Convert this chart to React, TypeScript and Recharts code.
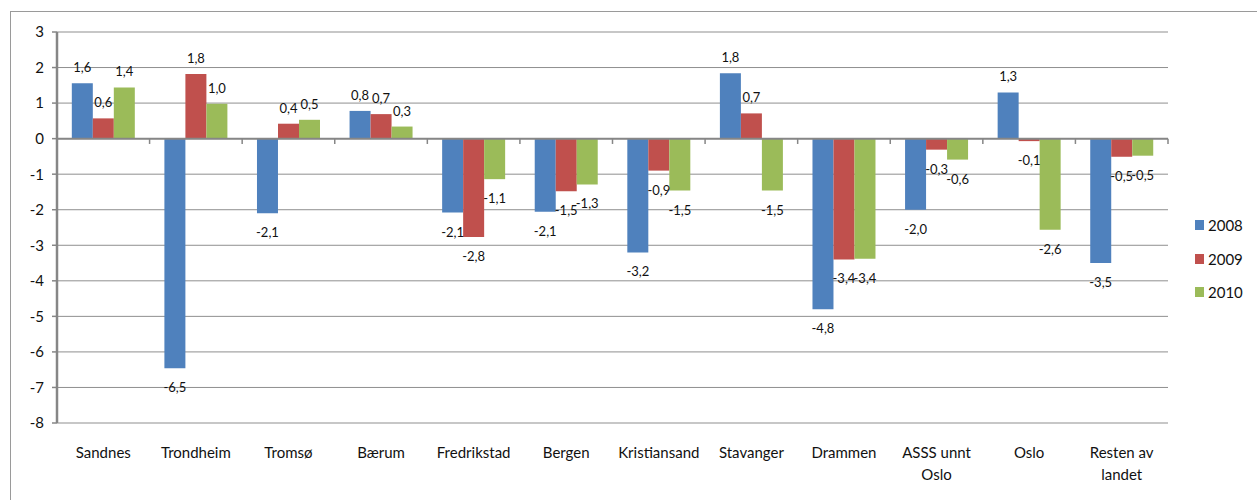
import React from 'react';
import { BarChart, Bar, XAxis, YAxis, CartesianGrid, ReferenceLine, LabelList } from 'recharts';

const categories = [
  'Sandnes',
  'Trondheim',
  'Tromsø',
  'Bærum',
  'Fredrikstad',
  'Bergen',
  'Kristiansand',
  'Stavanger',
  'Drammen',
  'ASSS unnt\nOslo',
  'Oslo',
  'Resten av\nlandet',
];
const series2008 = [1.56, -6.46, -2.1, 0.78, -2.08, -2.06, -3.2, 1.84, -4.8, -2.0, 1.3, -3.5];
const series2009 = [0.57, 1.82, 0.42, 0.69, -2.77, -1.48, -0.9, 0.71, -3.4, -0.31, -0.07, -0.51];
const series2010 = [1.44, 0.98, 0.53, 0.34, -1.14, -1.29, -1.46, -1.46, -3.38, -0.59, -2.56, -0.48];
const seriesNames = ['2008', '2009', '2010'];
const seriesColors = ['#4F81BD', '#C0504D', '#9BBB59'];
const yTicks = [-8, -7, -6, -5, -4, -3, -2, -1, 0, 1, 2, 3];

const FONT = 'Lato, "Open Sans", sans-serif';

const data = categories.map((name, i) => ({
  name,
  s2008: series2008[i],
  s2009: series2009[i],
  s2010: series2010[i],
}));
const seriesKeys = ['s2008', 's2009', 's2010'];

const fmt = (v: number) => v.toFixed(1).replace('.', ',');

const DataLabel = (props: any) => {
  const { x, y, width, height, value } = props;
  if (value === undefined || value === null) return null;
  const nx = Number(x), ny = Number(y), nw = Number(width), nh = Number(height);
  const top = Math.min(ny, ny + nh);
  const bottom = Math.max(ny, ny + nh);
  const cx = nx + nw / 2;
  const ty = value >= 0 ? top - 11 : bottom + 24;
  return (
    <text x={cx} y={ty} textAnchor="middle" fontSize={13} fill="#111" fontFamily={FONT}>
      {fmt(value)}
    </text>
  );
};

const CategoryTick = (props: any) => {
  const { x, y, payload } = props;
  const lines = String(payload.value).split('\n');
  return (
    <text x={x} y={Number(y) + 35} textAnchor="middle" fontSize={15} fill="#111" fontFamily={FONT}>
      {lines.map((l, i) => (
        <tspan key={i} x={x} dy={i === 0 ? 0 : 22}>
          {l}
        </tspan>
      ))}
    </text>
  );
};

export default function App() {
  return (
    <div style={{ position: 'absolute', left: 0, top: 0, width: 1257, height: 500, overflow: 'hidden', background: '#fff' }}>
      <div
        style={{
          position: 'absolute',
          left: 10,
          top: 11,
          width: 1270,
          height: 520,
          border: '1px solid #9a9a9a',
          boxSizing: 'border-box',
        }}
      />
      <div style={{ position: 'absolute', left: 0, top: 0 }}>
        <BarChart
          width={1257}
          height={500}
          data={data}
          margin={{ top: 32, right: 89, bottom: 17, left: 10 }}
          barCategoryGap="16%"
          barGap={0}
        >
          <CartesianGrid vertical={false} stroke="#8f8f8f" strokeWidth={1} />
          <XAxis
            dataKey="name"
            axisLine={false}
            tickLine={false}
            tickSize={0}
            tickMargin={0}
            height={60}
            interval={0}
            tick={<CategoryTick />}
          />
          <YAxis
            width={47}
            domain={[-8, 3]}
            ticks={yTicks}
            interval={0}
            axisLine={{ stroke: '#868686', strokeWidth: 2.5 }}
            tickLine={{ stroke: '#868686', strokeWidth: 1.5 }}
            tickSize={5}
            tickMargin={8}
            tick={{ fontSize: 15, fill: '#111', fontFamily: FONT }}
          />
          {seriesKeys.map((k, i) => (
            <Bar key={k} dataKey={k} name={seriesNames[i]} fill={seriesColors[i]} isAnimationActive={false}>
              <LabelList dataKey={k} content={<DataLabel />} />
            </Bar>
          ))}
          <ReferenceLine y={0} stroke="#868686" strokeWidth={2} />
          {categories.map((c) => (
            <ReferenceLine
              key={'t' + c}
              segment={[
                { x: c, y: 0 },
                { x: c, y: -0.15 },
              ]}
              position="start"
              stroke="#868686"
              strokeWidth={1.5}
            />
          ))}
          <ReferenceLine
            segment={[
              { x: categories[categories.length - 1], y: 0 },
              { x: categories[categories.length - 1], y: -0.15 },
            ]}
            position="end"
            stroke="#868686"
            strokeWidth={1.5}
          />
        </BarChart>
      </div>
      <div style={{ position: 'absolute', left: 1195, top: 213, fontFamily: FONT, fontSize: 15, color: '#111' }}>
        {seriesNames.map((n, i) => (
          <div key={n} style={{ display: 'flex', alignItems: 'center', height: 24, marginBottom: 9.5 }}>
            <div style={{ width: 9, height: 10, background: seriesColors[i], marginRight: 4 }} />
            <span>{n}</span>
          </div>
        ))}
      </div>
    </div>
  );
}
